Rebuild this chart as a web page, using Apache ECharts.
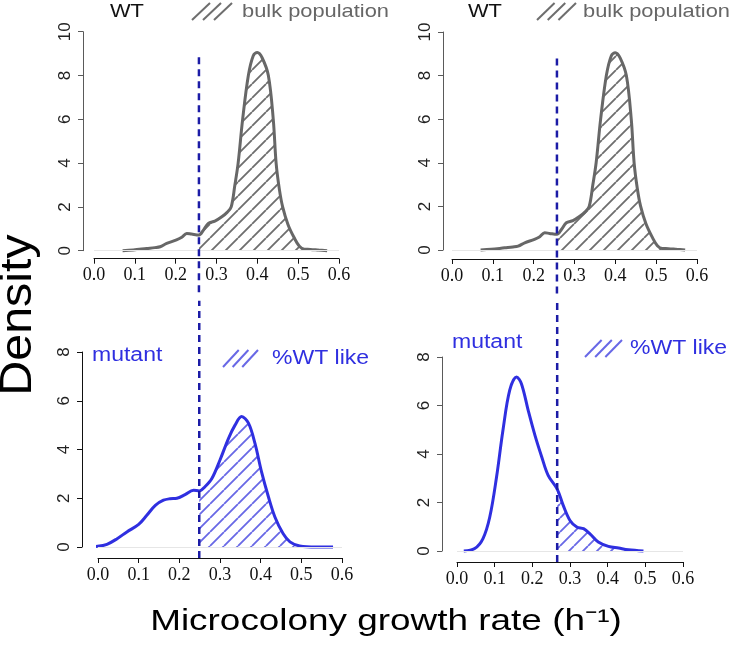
<!DOCTYPE html>
<html><head><meta charset="utf-8">
<script src="https://cdn.jsdelivr.net/npm/echarts@6/dist/echarts.min.js"></script>
<style>html,body{margin:0;padding:0;background:#fff}#c{width:731px;height:648px}</style>
</head><body><div id="c"></div>
<script>
// ---------- data ----------
const xTickLabels = ['0.0','0.1','0.2','0.3','0.4','0.5','0.6'];
const yMaxTop = 10, yMaxBottom = 8, yStep = 2;

const wtX = [0.070,0.096,0.129,0.149,0.162,0.178,0.202,0.215,0.227,0.239,0.257,0.268,0.280,0.296,0.313,0.326,0.336,0.345,0.353,0.364,0.378,0.390,0.400,0.412,0.427,0.439,0.446,0.454,0.462,0.475,0.490,0.503,0.515,0.530,0.550,0.571];
const wtY = [0,0.03,0.10,0.14,0.18,0.33,0.49,0.61,0.79,0.76,0.72,0.94,1.25,1.35,1.55,1.75,2.0,3.0,4.0,6.0,8.0,8.9,9.05,8.8,8.0,6.0,4.0,2.8,2.0,1.2,0.6,0.2,0.07,0.06,0.03,0];

const mutAX = [-0.035,-0.002,0.022,0.047,0.071,0.100,0.120,0.141,0.161,0.177,0.194,0.214,0.235,0.249,0.263,0.280,0.300,0.321,0.337,0.353,0.370,0.386,0.402,0.419,0.435,0.455,0.472,0.496,0.537,0.578];
const mutAY = [0,0.03,0.11,0.34,0.62,0.93,1.3,1.71,1.92,1.98,2.0,2.15,2.33,2.3,2.47,2.81,3.57,4.46,5.0,5.35,5.08,4.25,3.09,2.06,1.23,0.55,0.21,0.04,0,0];

const mutBX = [0.018,0.047,0.069,0.087,0.105,0.122,0.140,0.158,0.171,0.189,0.207,0.225,0.242,0.266,0.282,0.300,0.318,0.336,0.353,0.375,0.402,0.429,0.455,0.495];
const mutBY = [0,0.1,0.51,1.4,3.05,4.98,6.63,7.18,6.9,5.8,4.77,3.88,3.12,2.55,1.88,1.26,0.99,0.92,0.71,0.37,0.19,0.12,0.05,0];

const thresholds = [0.257, 0.257, 0.249, 0.266];
const dashRanges = [[-1.9, 8.95], [-2.0, 8.86], [-0.45, 10.1], [-0.45, 10.35]];

// ---------- layout / style ----------
const GRAY = '#676767', BLUE = '#2f2fe0', HBLUE = '#6868e6', DASH = '#1c1ca6';
const panels = [
  {grid:{left:94, top:31.7, width:245, height:219}, yOff:11, xOff:8,  yMax:yMaxTop,    xs:wtX,   ys:wtY,   line:GRAY, hatch:'#6e6e6e', yAxisColor:'#5a5a5a'},
  {grid:{left:452, top:32, width:245, height:218}, yOff:9,  xOff:9,  yMax:yMaxTop,    xs:wtX,   ys:wtY,   line:GRAY, hatch:'#6e6e6e', yAxisColor:'#5a5a5a'},
  {grid:{left:98, top:352, width:244, height:195}, yOff:16, xOff:11, yMax:yMaxBottom, xs:mutAX, ys:mutAY, line:BLUE, hatch:HBLUE, yAxisColor:'#111'},
  {grid:{left:457, top:357, width:226, height:194}, yOff:15, xOff:11, yMax:yMaxBottom, xs:mutBX, ys:mutBY, line:BLUE, hatch:HBLUE, yAxisColor:'#5a5a5a'}
];

function makeHatch(color){
  const s = 14, c = document.createElement('canvas');
  c.width = s; c.height = s;
  const g = c.getContext('2d');
  g.strokeStyle = color; g.lineWidth = 1.8;
  g.beginPath();
  for (let k = -1; k <= 1; k++) { g.moveTo(k*s, s); g.lineTo(k*s + s, 0); }
  g.stroke();
  return {image: c, repeat: 'repeat'};
}

const grids = [], xAxes = [], yAxes = [], series = [];
panels.forEach((p, i) => {
  grids.push(p.grid);
  xAxes.push({
    type:'value', gridIndex:i, min:0, max:0.6, interval:0.1, offset:p.xOff, position:'bottom',
    axisLine:{show:true, onZero:false, lineStyle:{color:'#111', width:1}},
    axisTick:{show:true, length:5, lineStyle:{color:'#111'}},
    splitLine:{show:false},
    axisLabel:{margin:8, fontFamily:'Liberation Serif', fontSize:18, color:'#111',
      formatter:v => xTickLabels[Math.round(v*10)]}
  });
  yAxes.push({
    type:'value', gridIndex:i, min:0, max:p.yMax, interval:yStep, offset:p.yOff, position:'left',
    axisLine:{show:true, onZero:false, lineStyle:{color:p.yAxisColor, width:1}},
    axisTick:{show:true, length:5, lineStyle:{color:p.yAxisColor}},
    splitLine:{show:false},
    axisLabel:{rotate:90, margin:9, fontFamily:'Liberation Sans', fontSize:17, color:'#222'}
  });
  const pts = p.xs.map((x, k) => [x, p.ys[k]]);
  const thr = thresholds[i];
  series.push({
    type:'line', xAxisIndex:i, yAxisIndex:i, data:pts.filter(d => d[0] >= thr),
    smooth:0.35, showSymbol:false, silent:true, z:1,
    lineStyle:{width:0, opacity:0}, areaStyle:{color:makeHatch(p.hatch), opacity:1}
  });
  series.push({
    type:'line', xAxisIndex:i, yAxisIndex:i, data:pts, clip:false,
    smooth:0.35, showSymbol:false, silent:true, z:3,
    lineStyle:{width:3, color:p.line},
    markLine:{silent:true, symbol:'none', label:{show:false}, animation:false,
      lineStyle:{color:'#e6e6e6', width:1, type:'solid'}, data:[{yAxis:0}]}
  });
  series.push({
    type:'line', xAxisIndex:i, yAxisIndex:i, clip:false, silent:true, z:5,
    data:[[thr, dashRanges[i][0]], [thr, dashRanges[i][1]]], showSymbol:false,
    lineStyle:{color:DASH, width:2.5, type:[7,5]}
  });
});

function txt(text, x, y, size, fill, opts){
  opts = opts || {};
  return {type:'text', x:x, y:y, scaleX:opts.sx || 1.15, scaleY:1, rotation:opts.rot || 0, silent:true,
    style:{text:text, fontFamily:'Liberation Sans', fontSize:size, fill:fill,
      align:opts.align || 'left', textAlign:opts.align || 'left',
      verticalAlign:'middle', textVerticalAlign:'middle'}};
}
function hatchIcon(x0, y0, w, h, color){
  const els = [], seg = w * 0.45, step = (w - seg) / 2;
  for (let k = 0; k < 3; k++) {
    const x = x0 + k*step;
    els.push({type:'line', silent:true, shape:{x1:x, y1:y0 + h, x2:x + seg, y2:y0},
      style:{stroke:color, lineWidth:2}});
  }
  return els;
}

const graphic = [].concat(
  [txt('WT', 110, 12, 19, '#111'), txt('bulk population', 242, 12, 19, '#666'),
   txt('WT', 468, 12, 19, '#111'), txt('bulk population', 583, 12, 19, '#666'),
   txt('mutant', 92, 355, 20, BLUE), txt('%WT like', 272, 358, 20, BLUE),
   txt('mutant', 452, 342, 20, BLUE), txt('%WT like', 630, 348, 20, BLUE),
   txt('Density', 19, 315, 44, '#000', {rot:Math.PI/2, align:'center', sx:1.1}),
   txt('Microcolony growth rate (h\u207B\u00B9)', 386, 622, 30, '#000', {align:'center', sx:1.23})],
  hatchIcon(192, 3, 40, 17, '#6e6e6e'),
  hatchIcon(537, 3, 39, 17, '#6e6e6e'),
  hatchIcon(223, 350, 35, 17, HBLUE),
  hatchIcon(585, 340, 37, 17, HBLUE)
);

const chart = echarts.init(document.getElementById('c'), null, {renderer:'canvas'});
chart.setOption({
  animation:false, backgroundColor:'#fff',
  grid:grids, xAxis:xAxes, yAxis:yAxes, series:series, graphic:graphic
});
</script></body></html>
